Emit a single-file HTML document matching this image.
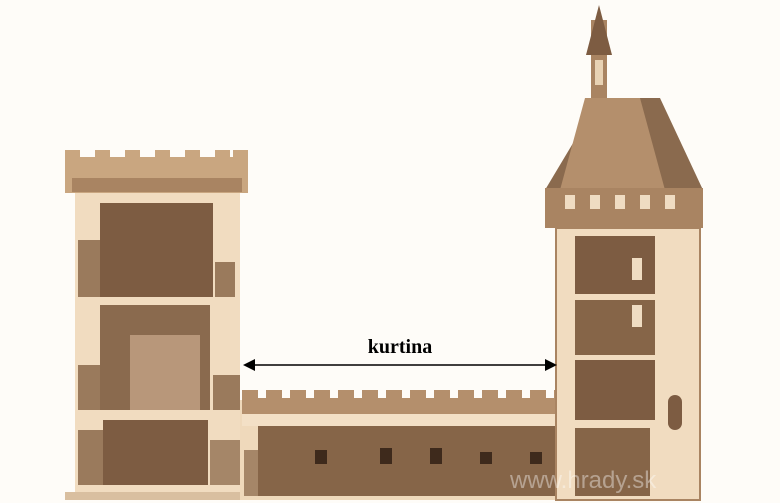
<!DOCTYPE html>
<html><head><meta charset="utf-8"><style>
html,body{margin:0;padding:0;background:#fff;}
svg{display:block}
</style></head><body>
<svg width="780" height="503" viewBox="0 0 780 503" xmlns="http://www.w3.org/2000/svg">
<rect width="780" height="503" fill="#fefcf8"/>
<g>
<rect x="65" y="157" width="183" height="36" fill="#c9a680"/>
<g fill="#c9a680">
<rect x="65" y="150" width="15" height="10"/><rect x="95" y="150" width="15" height="10"/><rect x="125" y="150" width="15" height="10"/><rect x="155" y="150" width="15" height="10"/><rect x="185" y="150" width="15" height="10"/><rect x="215" y="150" width="15" height="10"/><rect x="233" y="150" width="15" height="10"/>
</g>
<rect x="72" y="178" width="170" height="14" fill="#a98462"/>
<rect x="75" y="193" width="165" height="307" fill="#f1dcc0"/>
<rect x="100" y="203" width="113" height="94" fill="#7d5c42"/>
<rect x="78" y="240" width="22" height="57" fill="#9a7a5c"/>
<rect x="215" y="262" width="20" height="35" fill="#9a7a5c"/>
<rect x="100" y="305" width="110" height="105" fill="#8a6a4e"/>
<rect x="130" y="335" width="70" height="75" fill="#b8977a"/>
<rect x="78" y="365" width="22" height="45" fill="#9a7a5c"/>
<rect x="213" y="375" width="27" height="35" fill="#9a7a5c"/>
<rect x="103" y="420" width="105" height="65" fill="#7d5c42"/>
<rect x="78" y="430" width="25" height="55" fill="#9a7a5c"/>
<rect x="210" y="440" width="30" height="45" fill="#a58668"/>
<rect x="65" y="492" width="183" height="8" fill="#d9bfa0"/>
</g>
<g>
<rect x="240" y="400" width="318" height="100" fill="#efd9bb"/>
<rect x="242" y="390" width="318" height="24" fill="#b48f6c"/>
<g fill="#fefcf8">
<rect x="258" y="388" width="8" height="10"/><rect x="282" y="388" width="8" height="10"/><rect x="306" y="388" width="8" height="10"/><rect x="330" y="388" width="8" height="10"/><rect x="354" y="388" width="8" height="10"/><rect x="378" y="388" width="8" height="10"/><rect x="402" y="388" width="8" height="10"/><rect x="426" y="388" width="8" height="10"/><rect x="450" y="388" width="8" height="10"/><rect x="474" y="388" width="8" height="10"/><rect x="498" y="388" width="8" height="10"/><rect x="522" y="388" width="8" height="10"/><rect x="546" y="388" width="8" height="10"/>
</g>
<rect x="242" y="414" width="316" height="12" fill="#f3e0c6"/>
<rect x="258" y="426" width="300" height="70" fill="#866548"/>
<rect x="244" y="450" width="14" height="46" fill="#a58668"/>
<g fill="#3e2a1c"><rect x="315" y="450" width="12" height="14"/><rect x="380" y="448" width="12" height="16"/><rect x="430" y="448" width="12" height="16"/><rect x="480" y="452" width="12" height="12"/><rect x="530" y="452" width="12" height="12"/></g>
</g>
<g>
<rect x="591" y="20" width="16" height="80" fill="#a98462"/>
<polygon points="599,5 586,55 612,55" fill="#7d5c42"/>
<rect x="595" y="60" width="8" height="25" fill="#e8d2b4"/>
<polygon points="600,98 545,190 703,190 660,98" fill="#8a6a4e"/>
<polygon points="585,98 640,98 665,190 560,190" fill="#b48f6c"/>
<rect x="545" y="188" width="158" height="40" fill="#a98462"/>
<g fill="#efdcc2"><rect x="565" y="195" width="10" height="14"/><rect x="590" y="195" width="10" height="14"/><rect x="615" y="195" width="10" height="14"/><rect x="640" y="195" width="10" height="14"/><rect x="665" y="195" width="10" height="14"/></g>
<rect x="556" y="228" width="144" height="272" fill="#f1dcc0"/>
<rect x="575" y="236" width="80" height="58" fill="#7d5c42"/>
<rect x="575" y="300" width="80" height="55" fill="#866548"/>
<rect x="575" y="360" width="80" height="60" fill="#7d5c42"/>
<rect x="575" y="428" width="75" height="68" fill="#866548"/>
<rect x="632" y="258" width="10" height="22" fill="#efdcc2"/>
<rect x="632" y="305" width="10" height="22" fill="#efdcc2"/>
<rect x="668" y="395" width="14" height="35" rx="7" fill="#7d5c42"/>
<rect x="556" y="228" width="144" height="272" fill="none" stroke="#a98462" stroke-width="2"/>
</g>
<line x1="250" y1="365" x2="550" y2="365" stroke="#000" stroke-width="1.5"/>
<polygon points="243,365 255,359 255,371" fill="#000"/>
<polygon points="557,365 545,359 545,371" fill="#000"/>
<text x="400" y="353" text-anchor="middle" font-family="Liberation Serif, serif" font-weight="bold" font-size="20">kurtina</text>
<text x="510" y="488" font-family="Liberation Sans, sans-serif" font-size="24" fill="#ffffff" fill-opacity="0.4">www.hrady.sk</text>
</svg>
</body></html>
